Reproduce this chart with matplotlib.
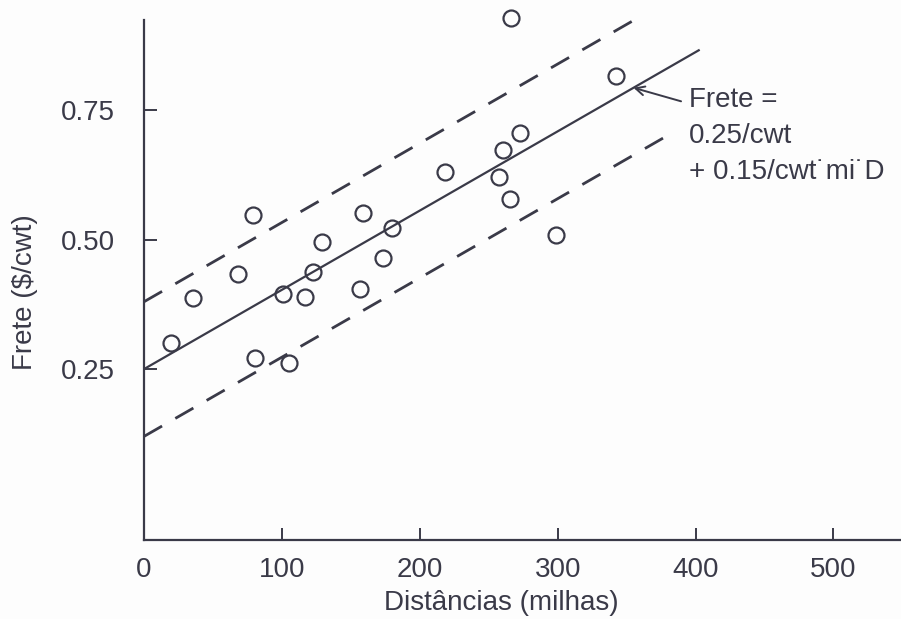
import numpy as np
import matplotlib
matplotlib.use("Agg")
import matplotlib.pyplot as plt

plt.rcParams['font.family'] = ['Liberation Sans', 'DejaVu Sans']

# distance (miles) and freight rate ($/cwt)
distancia = [19.6, 35.6, 68.2, 79.1, 80.6, 100.9, 105.2, 116.8, 122.6, 129.2,
             156.7, 158.9, 173.4, 180.0, 218.4, 257.6, 260.5, 265.6, 266.3,
             272.9, 299.0, 342.5]
frete = [0.300, 0.387, 0.433, 0.547, 0.271, 0.395, 0.262, 0.389, 0.437, 0.495,
         0.404, 0.551, 0.464, 0.522, 0.630, 0.621, 0.673, 0.578, 0.928,
         0.706, 0.509, 0.816]

# fitted line and band
intercepto = 0.25
inclinacao = 0.00153
faixa = 0.13
x_fim_linha = 403
x_fim_sup = 355
x_fim_inf = 382

xticks = [0, 100, 200, 300, 400, 500]
yticks = [0.25, 0.50, 0.75]

ink = '#3a3a48'
fs = 20

fig = plt.figure(figsize=(9.01, 6.19), dpi=100)
fig.patch.set_facecolor('#fdfdfd')
ax = fig.add_axes([144 / 901, 79 / 619, 757 / 901, 520 / 619])
ax.set_facecolor('#fdfdfd')

x = np.array([0, x_fim_linha])
ax.plot(x, intercepto + inclinacao * x, color=ink, lw=1.6, solid_capstyle='butt')
xs = np.array([0, x_fim_sup])
ax.plot(xs, intercepto + faixa + inclinacao * xs, color=ink, lw=2.0,
        dashes=(7.5, 5.5), dash_capstyle='butt')
xi = np.array([0, x_fim_inf])
ax.plot(xi, intercepto - faixa + inclinacao * xi, color=ink, lw=2.0,
        dashes=(7.5, 5.5), dash_capstyle='butt')

ax.plot(distancia, frete, 'o', mfc='none', mec=ink, ms=11.5, mew=1.6,
        clip_on=False, zorder=3)

ax.set_xlim(0, 549)
ax.set_ylim(-0.080, 0.924)
ax.set_xticks(xticks)
ax.set_xticklabels([str(t) for t in xticks])
ax.set_yticks(yticks)
ax.set_yticklabels(['%.2f' % t for t in yticks])
ax.tick_params(direction='in', length=9, width=1.4, color=ink,
               labelcolor=ink, labelsize=fs)
ax.tick_params(axis='y', pad=21)
ax.tick_params(axis='x', pad=12)

for s in ['top', 'right']:
    ax.spines[s].set_visible(False)
for s in ['left', 'bottom']:
    ax.spines[s].set_color(ink)
    ax.spines[s].set_linewidth(1.6)

ax.set_xlabel('Distâncias (milhas)', fontsize=fs, color=ink, va='center')
ax.xaxis.set_label_coords(0.472, -0.121)
ax.set_ylabel('Frete ($/cwt)', fontsize=fs, color=ink, va='center')
ax.yaxis.set_label_coords(-0.157, 0.477)

x_seta = 355
ax.annotate('', xy=(x_seta, intercepto + inclinacao * x_seta),
            xytext=(389.5, 0.767),
            arrowprops=dict(arrowstyle='->', color=ink, lw=1.4,
                            mutation_scale=16, shrinkA=0, shrinkB=0))
ax.text(395.5, 0.795, 'Frete =\n0.25/cwt\n+ 0.15/cwt˙mi˙D', fontsize=fs,
        color=ink, va='top', ha='left', linespacing=1.5)

fig.savefig('out.png', dpi=100, facecolor=fig.get_facecolor())
